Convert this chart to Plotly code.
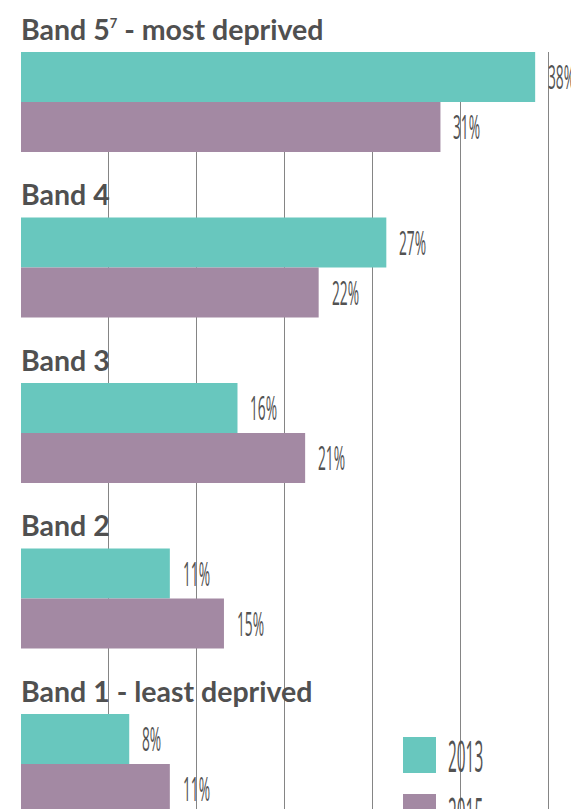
import plotly.graph_objects as go

bands = ["Band 5", "Band 4", "Band 3", "Band 2", "Band 1"]
band_titles = ["Band 5<sup><span style='font-size:13px'>7</span></sup> - most deprived",
               "Band 4", "Band 3", "Band 2", "Band 1 - least deprived"]
values_2013 = [38, 27, 16, 11, 8]
values_2015 = [31, 22, 21, 15, 11]
series_names = ["2013", "2015"]
colors = ["#68C7BE", "#A389A3"]
grid_vals = [6.5, 13, 19.5, 26, 32.5, 39]

LABEL_FONT = "Open Sans, Lato, sans-serif"
TITLE_FONT = "Lato, Noto Sans, sans-serif"
TEXT_COLOR = "#525252"

fig = go.Figure()
for name, vals, col in zip(series_names, [values_2013, values_2015], colors):
    fig.add_trace(go.Bar(
        y=bands, x=vals, name=name, orientation="h",
        marker=dict(color=col, line=dict(width=0)),
        hoverinfo="skip", showlegend=False,
    ))

# value labels next to bars
for vals, shift in zip([values_2013, values_2015], [25, -25]):
    for b, v in zip(bands, vals):
        fig.add_annotation(
            x=v, y=b, xref="x", yref="y", text=f"{v}%", showarrow=False,
            xanchor="left", yanchor="middle", xshift=11, yshift=shift,
            font=dict(family=LABEL_FONT, size=32, color=TEXT_COLOR, weight=400),
        )

for b, t in zip(bands, band_titles):
    fig.add_annotation(
        x=0, y=b, xref="x", yref="y", text=t, showarrow=False,
        xanchor="left", yanchor="bottom", xshift=-2, yshift=54,
        font=dict(family=TITLE_FONT, size=28.5, color="#505050", weight="bold"),
    )

# custom legend (large swatches)
leg_y = [755, 812]
for name, col, py in zip(series_names, colors, leg_y):
    fig.add_shape(type="rect", xref="paper", yref="paper",
                  x0=(403 - 21) / 558, x1=(436 - 21) / 558,
                  y0=(809 - (py + 18)) / 757, y1=(809 - (py - 18)) / 757,
                  fillcolor=col, line=dict(width=0), layer="above")
    fig.add_annotation(x=(446 - 21) / 558, y=(809 - py) / 757, xref="paper", yref="paper",
                       text=name, showarrow=False, xanchor="left", yanchor="middle",
                       font=dict(family=LABEL_FONT, size=44, color=TEXT_COLOR, weight=400))

fig.update_layout(
    width=571, height=801,
    margin=dict(l=13, r=0, t=44, b=0, pad=0),
    paper_bgcolor="white", plot_bgcolor="white",
    barmode="group", bargap=0.396, bargroupgap=0,
    xaxis=dict(range=[0, 41.24], tickvals=grid_vals, showticklabels=False,
               showgrid=True, gridcolor="#858585", gridwidth=1.3,
               zeroline=False, showline=False, ticks=""),
    yaxis=dict(categoryorder="array", categoryarray=bands, range=[4.272, -0.302],
               showticklabels=False, showgrid=False, zeroline=False, showline=False, ticks=""),
    showlegend=False,
)

# condense the label font horizontally (the reference uses a very narrow face)
post = """
(function(){
  var gd = document.getElementById('{plot_id}');
  function apply(){
    gd.querySelectorAll('text.annotation-text').forEach(function(t){
      if (t.getAttribute('data-cond')) return;
      var s = t.textContent.trim();
      var k = null;
      if (/^\\d+%$/.test(s)) k = 0.43;
      else if (/^20\\d\\d$/.test(s)) k = 0.35;
      if (k === null) return;
      var bb = t.getBBox();
      var ax = bb.x;
      var tr = t.getAttribute('transform') || '';
      t.setAttribute('transform', (tr + ' translate(' + ax + ',0) scale(' + k + ',1) translate(' + (-ax) + ',0)').trim());
      t.setAttribute('data-cond', '1');
    });
  }
  apply();
  setTimeout(apply, 0);
  setTimeout(apply, 200);
  if (gd.on) gd.on('plotly_afterplot', function(){ setTimeout(apply, 0); });
})();
"""

fig.write_html("out.html", post_script=post)
